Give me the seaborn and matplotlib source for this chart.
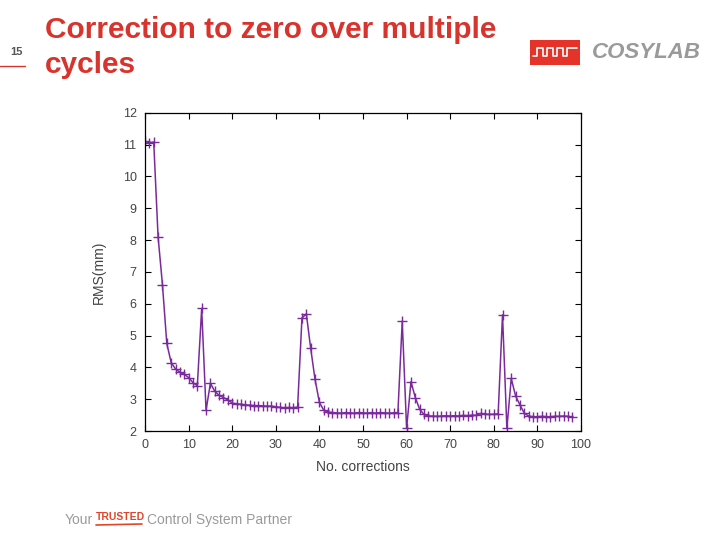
import matplotlib
matplotlib.use("Agg")
import matplotlib.pyplot as plt
import seaborn as sns
import pandas as pd
from matplotlib.patches import Rectangle

sns.set_theme(style="white")
plt.rcParams['font.family'] = ['Liberation Sans', 'DejaVu Sans']

title = "Correction to zero over multiple\ncycles"
x_label = "No. corrections"
y_label = "RMS(mm)"
x_ticks = [0, 10, 20, 30, 40, 50, 60, 70, 80, 90, 100]
y_ticks = [2, 3, 4, 5, 6, 7, 8, 9, 10, 11, 12]

corrections = list(range(0, 99))
rms = [11.10, 11.05, 11.08, 8.10, 6.60, 4.75, 4.15, 3.95, 3.85, 3.78,
       3.68, 3.52, 3.42, 5.85, 2.65, 3.50, 3.25, 3.12, 3.05, 2.98,
       2.88, 2.85, 2.84, 2.82, 2.81, 2.80, 2.80, 2.79, 2.78, 2.78,
       2.76, 2.74, 2.73, 2.74, 2.73, 2.75, 5.55, 5.68, 4.60, 3.62,
       2.90, 2.65, 2.60, 2.58, 2.57, 2.56, 2.58, 2.57, 2.56, 2.58,
       2.57, 2.56, 2.58, 2.56, 2.58, 2.57, 2.56, 2.57, 2.58, 5.45,
       2.08, 3.55, 3.05, 2.68, 2.52, 2.47, 2.47, 2.46, 2.47, 2.48,
       2.47, 2.48, 2.47, 2.49, 2.48, 2.50, 2.49, 2.55, 2.53, 2.52,
       2.53, 2.54, 5.65, 2.08, 3.65, 3.10, 2.82, 2.56, 2.47, 2.45,
       2.45, 2.46, 2.45, 2.45, 2.46, 2.46, 2.47, 2.46, 2.43]

df = pd.DataFrame({"corrections": corrections, "rms": rms})

fig = plt.figure(figsize=(7.2, 5.4), dpi=100)
ax = fig.add_axes([145/720, 1-431/540, (581-145)/720, (431-112.7)/540])

sns.lineplot(data=df, x="corrections", y="rms", ax=ax, color="#7b2a9c",
             linewidth=1.1, marker="+", markersize=6.5, markeredgewidth=1.0,
             markeredgecolor="#7b2a9c")

ax.set_xlim(0, 100)
ax.set_ylim(2, 12)
ax.set_xticks(x_ticks)
ax.set_yticks(y_ticks)
ax.tick_params(direction="in", length=4, width=0.8, colors="black",
               labelcolor="#444444", labelsize=9, top=True, right=True,
               left=True, bottom=True, pad=6)
for s in ax.spines.values():
    s.set_color("black")
    s.set_linewidth(0.9)
ax.set_xlabel(x_label, fontsize=10, color="#444444", labelpad=6)
ax.set_ylabel(y_label, fontsize=10, color="#444444", labelpad=12)

# Slide decorations
fig.text(45/720, 1-47.5/540, title, fontsize=21.5, fontweight="bold",
         color="#d8332c", ha="left", va="center", linespacing=1.3)
fig.text(10/720, 1-52/540, "15", fontsize=8, color="#555555", fontweight="bold",
         ha="left", va="center")
fig.add_artist(plt.Line2D([0, 25/720], [1-66/540, 1-66/540], color="#d8332c",
                          linewidth=1.0, transform=fig.transFigure))

# Logo
fig.add_artist(Rectangle((530/720, 1-65/540), 50/720, 25/540,
                         transform=fig.transFigure, facecolor="#e5332a",
                         edgecolor="none"))
wx = [533, 537, 537, 543, 543, 547, 547, 553, 553, 557, 557, 563, 563, 567, 567, 577]
wy = [56, 56, 48, 48, 56, 56, 48, 48, 56, 56, 48, 48, 56, 56, 48, 48]
fig.add_artist(plt.Line2D([v/720 for v in wx], [1-v/540 for v in wy],
                          color="white", linewidth=1.2, transform=fig.transFigure))
fig.text(592/720, 1-53/540, "COSYLAB", fontsize=16, fontweight="bold",
         fontstyle="italic", color="#9a9a9a", ha="left", va="center")

# Footer
fig.text(65/720, 1-520/540, "Your", fontsize=10, color="#9a9a9a",
         ha="left", va="center")
fig.text(96/720, 1-517/540, "TRUSTED", fontsize=7.5, color="#e0452c",
         fontweight="bold", ha="left", va="center")
fig.add_artist(plt.Line2D([96/720, 142/720], [1-525/540, 1-524/540],
                          color="#e0452c", linewidth=1.2, transform=fig.transFigure))
fig.text(147/720, 1-520/540, "Control System Partner", fontsize=10,
         color="#9a9a9a", ha="left", va="center")

fig.savefig("out.png", dpi=100)
